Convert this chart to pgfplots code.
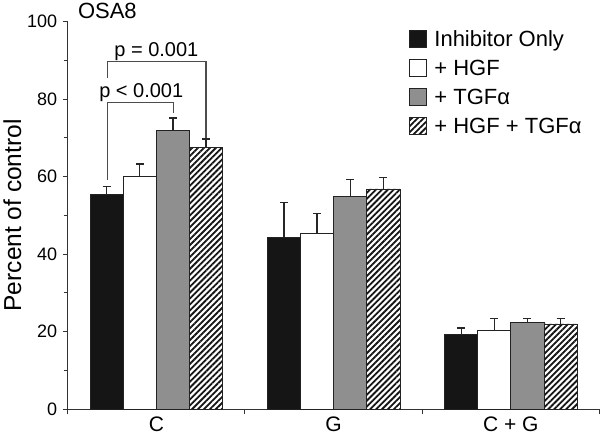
\documentclass[border=0pt]{standalone}
\usepackage{pgfplots}
\pgfplotsset{compat=1.18}
\usepackage{pgfplotstable}
\usepackage{fontspec}
\setmainfont{Liberation Sans}
\usetikzlibrary{patterns.meta}
\definecolor{barblack}{HTML}{151515}
\definecolor{bargray}{HTML}{8F8F8F}
\definecolor{edge}{HTML}{222222}
\pgfplotstableread{
x y e
0 55.3 2.1
1 44.3 9.0
2 19.3 1.7
}\inh
\pgfplotstableread{
x y e
0 60.0 3.2
1 45.4 5.1
2 20.4 3.0
}\hgf
\pgfplotstableread{
x y e
0 71.9 3.2
1 54.9 4.3
2 22.4 1.0
}\tgf
\pgfplotstableread{
x y e
0 67.4 2.3
1 56.8 3.0
2 22.0 1.4
}\both
\begin{document}
\begin{tikzpicture}
\begin{axis}[
  scale only axis, width=532pt, height=388pt,
  xmin=-0.5, xmax=2.5, ymin=0, ymax=100,
  axis x line=bottom, axis y line=left,
  axis line style={-, line width=1pt, draw=black!80},
  ybar, bar width=0.187,
  xtick={-0.5,0.5,1.5,2.5}, x tick label as interval,
  xticklabels={C,G,C + G},
  ytick={0,20,40,60,80,100}, minor ytick={10,30,50,70,90},
  tick align=outside, major tick length=5pt, minor tick length=4pt,
  tick style={line width=1pt, draw=black!80},
  /pgf/number format/assume math mode=true,
  y tick label style={font=\fontsize{18}{21}\selectfont, xshift=-2pt},
  x tick label style={font=\fontsize{21}{25}\selectfont, yshift=1pt},
  ylabel={Percent of control},
  ylabel style={font=\fontsize{24.5}{28}\selectfont, yshift=-1pt},
  clip=false,
  legend cell align=left,
  legend style={at={(rel axis cs:0.642,0.982)}, anchor=north west, draw=none, fill=none,
    font=\fontsize{22}{26}\selectfont, row sep=8pt, column sep=5pt, inner sep=0pt},
  legsq/.style={legend image code/.code={\draw[##1, line width=1.1pt] (0pt,-8pt) rectangle (17pt,9pt);}},
  error bars/error bar style={line width=1.3pt, draw=black!85, solid},
  error bars/error mark options={rotate=90, line width=1.6pt, mark size=4pt, draw=black!85},
]
\addplot[fill=barblack, draw=edge, line width=0.8pt, bar shift=-0.2805, legsq,
  error bars/.cd, y dir=plus, y explicit] table[x=x, y=y, y error=e]{\inh};
\addlegendentry{Inhibitor Only}
\addplot[fill=white, draw=edge, line width=0.8pt, bar shift=-0.0935, legsq,
  error bars/.cd, y dir=plus, y explicit] table[x=x, y=y, y error=e]{\hgf};
\addlegendentry{+ HGF}
\addplot[fill=bargray, draw=edge, line width=0.8pt, bar shift=0.0935, legsq,
  error bars/.cd, y dir=plus, y explicit] table[x=x, y=y, y error=e]{\tgf};
\addlegendentry{+ TGFα}
\addplot[fill=white, postaction={pattern={Lines[angle=45,distance=4.2pt,line width=1.8pt]}, pattern color=barblack}, draw=edge, line width=0.8pt, bar shift=0.2805, legsq,
  error bars/.cd, y dir=plus, y explicit] table[x=x, y=y, y error=e]{\both};
\addlegendentry{+ HGF + TGFα}
\draw[line width=1.2pt, draw=black!70] (axis cs:-0.274,85.5) |- (axis cs:0.28,89.7) -- (axis cs:0.28,70.0);
\draw[line width=1.2pt, draw=black!70] (axis cs:-0.274,59.2) |- (axis cs:0.096,79.2) -- (axis cs:0.096,76.5);
\node[anchor=base, font=\fontsize{20}{24}\selectfont] at (axis cs:0.0,90.9) {p = 0.001};
\node[anchor=base, font=\fontsize{20}{24}\selectfont] at (axis cs:-0.085,80.3) {p < 0.001};
\node[anchor=base west, font=\fontsize{22}{26}\selectfont, inner sep=0pt] at (rel axis cs:0.019,1.008) {OSA8};
\end{axis}
\path (current bounding box.north) ++(0,3pt);
\end{tikzpicture}
\end{document}
